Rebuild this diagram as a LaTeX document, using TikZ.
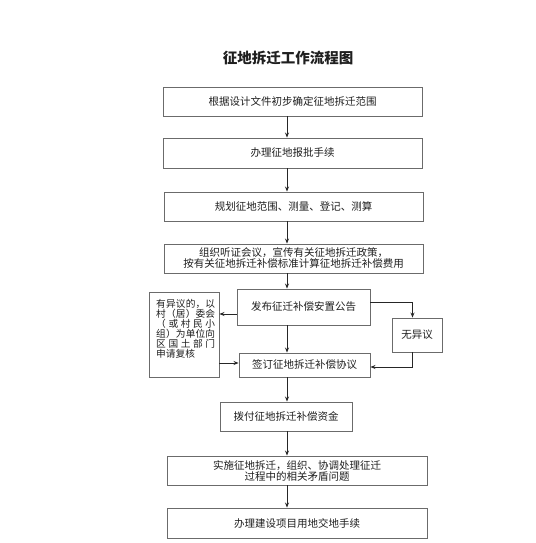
\documentclass[tikz,border=0pt]{standalone}
\usepackage{fontspec}
\setmainfont{Noto Sans CJK SC}
\usetikzlibrary{arrows.meta}
\tikzset{
  box/.style={draw=black!58, line width=0.9pt, inner sep=0pt, align=center,
    font=\fontsize{10.5}{11}\selectfont, text=black!88},
  arr/.style={draw=black!85, line width=0.8pt, -{Stealth[length=5pt,width=4pt]}},
}
\begin{document}
\begin{tikzpicture}[x=1pt,y=-1pt]
\fill[white] (0,0) rectangle (535,543);
\useasboundingbox (0,0) rectangle (535,543);

\node[font=\bfseries\fontsize{14.5}{15}\selectfont, text=black!88] (title) at (288,58) {征地拆迁工作流程图};

\node[box, minimum width=259pt, minimum height=29pt] (b1) at (292.5,101.5) {根据设计文件初步确定征地拆迁范围};
\node[box, minimum width=259pt, minimum height=30pt] (b2) at (292.5,153) {办理征地报批手续};
\node[box, minimum width=259pt, minimum height=29pt] (b3) at (293.5,206.5) {规划征地范围、测量、登记、测算};
\node[box, minimum width=259pt, minimum height=29pt] (b4) at (293.5,258.5) {组织听证会议，宣传有关征地拆迁政策，\\按有关征地拆迁补偿标准计算征地拆迁补偿费用};
\node[box, minimum width=133pt, minimum height=36pt] (pub) at (303.5,307) {发布征迁补偿安置公告};
\node[box, minimum width=131pt, minimum height=24pt] (sign) at (304.5,365) {签订征地拆迁补偿协议};
\node[box, minimum width=70pt, minimum height=85pt] (lbox) at (184,334.5) {};
\node[anchor=north west, inner sep=0pt, text width=59pt, align=left, text=black!88,
  font=\fontsize{9.7}{10}\selectfont] (ltext) at (156,299) {\lineskiplimit=-20pt
  \hbox to 59pt{有\hfil 异\hfil 议\hfil 的\hfil ，\hfil 以}
  \hbox to 59pt{村\hfil （\hfil 居\hfil ）\hfil 委\hfil 会}
  \hbox to 59pt{（\hfil 或\hfil 村\hfil 民\hfil 小}
  \hbox to 59pt{组\hfil ）\hfil 为\hfil 单\hfil 位\hfil 向}
  \hbox to 59pt{区\hfil 国\hfil 土\hfil 部\hfil 门}
  \hbox to 59pt{申请复核\hfil}};
\node[box, minimum width=50pt, minimum height=34pt] (noobj) at (417,335) {无异议};
\node[box, minimum width=132pt, minimum height=29pt] (pay) at (286,416.5) {拨付征地拆迁补偿资金};
\node[box, minimum width=260pt, minimum height=29pt] (impl) at (297,470.5) {实施征地拆迁，组织、协调处理征迁\\过程中的相关矛盾问题};
\node[box, minimum width=260pt, minimum height=30pt] (last) at (297,523) {办理建设项目用地交地手续};

\coordinate (ax) at (287,0);
\draw[arr] (b1.south -| ax) -- (b2.north -| ax);
\draw[arr] (b2.south -| ax) -- (b3.north -| ax);
\draw[arr] (b3.south -| ax) -- (b4.north -| ax);
\draw[arr] (b4.south -| ax) -- (pub.north -| ax);
\draw[arr] (pub.south -| ax) -- (sign.north -| ax);
\draw[arr] (sign.south -| ax) -- (pay.north -| ax);
\draw[arr] (pay.south -| ax) -- (impl.north -| ax);
\draw[arr] (impl.south -| ax) -- (last.north -| ax);

\coordinate (l1) at (0,314);
\coordinate (l2) at (0,363);
\draw[arr] (pub.west |- l1) -- (lbox.east |- l1);
\draw[arr] (lbox.east |- l2) -- (sign.west |- l2);

\coordinate (r1) at (412.5,302);
\coordinate (r2) at (412.5,367);
\draw[arr] (pub.east |- r1) -| (noobj.north -| r1);
\draw[arr] (noobj.south -| r2) |- (sign.east |- r2);
\end{tikzpicture}
\end{document}
